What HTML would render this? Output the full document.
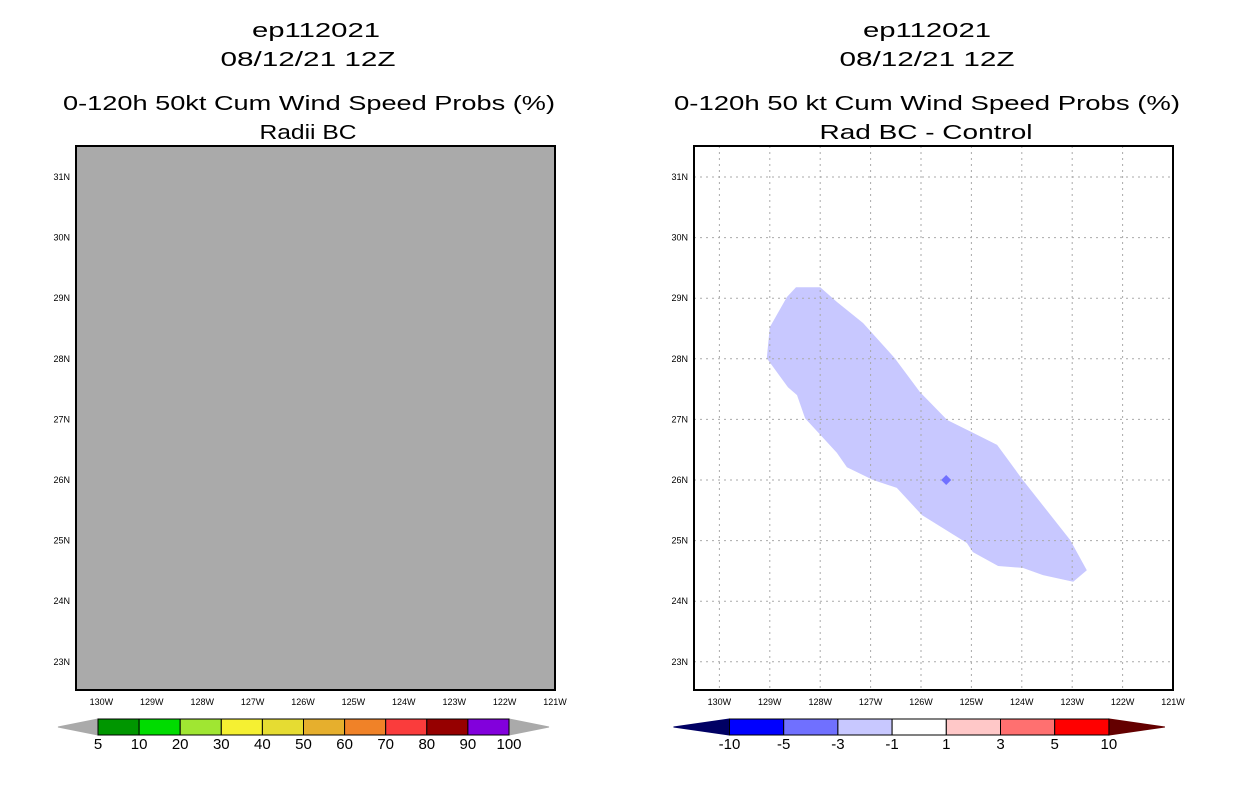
<!DOCTYPE html>
<html><head><meta charset="utf-8"><style>
body{margin:0;background:#fff;width:1236px;height:800px;overflow:hidden}
svg text{font-family:"Liberation Sans",sans-serif}
</style></head><body>
<svg id="s" width="1236" height="800" xmlns="http://www.w3.org/2000/svg">
<g font-size="20" text-anchor="middle" fill="#000">
<text x="316" y="37" textLength="128" lengthAdjust="spacingAndGlyphs">ep112021</text>
<text x="308" y="66" textLength="175" lengthAdjust="spacingAndGlyphs">08/12/21 12Z</text>
<text x="309" y="110" textLength="492" lengthAdjust="spacingAndGlyphs">0-120h 50kt Cum Wind Speed Probs (%)</text>
<text x="308" y="139" textLength="97" lengthAdjust="spacingAndGlyphs">Radii BC</text>
<text x="927" y="37" textLength="128" lengthAdjust="spacingAndGlyphs">ep112021</text>
<text x="927" y="66" textLength="175" lengthAdjust="spacingAndGlyphs">08/12/21 12Z</text>
<text x="927" y="110" textLength="506" lengthAdjust="spacingAndGlyphs">0-120h 50 kt Cum Wind Speed Probs (%)</text>
<text x="926" y="139" textLength="213" lengthAdjust="spacingAndGlyphs">Rad BC - Control</text>
</g>
<g id="L"></g>
<g id="R"></g>
<g id="CB"></g>
</svg>
<script>
const lonTicks=[130,129,128,127,126,125,124,123,122,121];
const latTicks=[31,30,29,28,27,26,25,24,23];
const diffLon=[128.48,128.00,127.67,127.15,126.52,126.02,125.48,124.97,124.49,123.98,123.04,122.71,122.98,123.58,123.98,124.47,124.97,125.09,125.98,126.48,126.95,127.47,127.67,128.30,128.46,128.64,129.06,129.00,128.66];
const diffLat=[29.18,29.18,28.94,28.59,28.01,27.45,26.99,26.78,26.58,26.00,25.01,24.51,24.32,24.43,24.55,24.58,24.81,24.96,25.42,25.87,26.00,26.21,26.45,27.02,27.40,27.53,28.01,28.52,29.02];
const peakLon=[125.5], peakLat=[26.0];
const probLabels=["5","10","20","30","40","50","60","70","80","90","100"];
const probColors=["#009600","#00dc00","#a0e632","#f5f032","#e6dc32","#e6af2d","#f08228","#fa3c3c","#960000","#8200dc"];
const diffLabels=["-10","-5","-3","-1","1","3","5","10"];
const diffColors=["#0000ff","#7070ff","#c8c8ff","#ffffff","#ffc8c8","#ff7070","#ff0000"];
const NS="http://www.w3.org/2000/svg";
function mk(p,t,a){const e=document.createElementNS(NS,t);for(const k in a)e.setAttribute(k,a[k]);p.appendChild(e);return e;}
function mapAxes(x0){
  const right=x0+479, top=146, bot=690;
  const X=lon=>right-(lon-121)*50.4;
  const Y=lat=>177+(31-lat)*60.6;
  return {X,Y,right,top,bot};
}
function drawMap(g,x0,fill){
  const a=mapAxes(x0);
  const bg=mk(g,'rect',{x:x0,y:a.top,width:479,height:544,fill:fill});
  
  
  return a;
}
function axesFrame(g,x0,a){
  const fr=mk(g,'rect',{x:x0,y:a.top,width:479,height:544,fill:'none',stroke:'#000','stroke-width':2});
  
  
  lonTicks.forEach(l=>{const t=mk(g,'text',{x:a.X(l),y:705,'font-size':9,'text-anchor':'middle'});t.textContent=l+'W';
    
    });
  latTicks.forEach(l=>{const t=mk(g,'text',{x:x0-6,y:a.Y(l)+3,'font-size':9,'text-anchor':'end'});t.textContent=l+'N';
    
    });
}
const L=document.getElementById('L'), R=document.getElementById('R');
const aL=drawMap(L,76,'#aaaaaa'); axesFrame(L,76,aL);
const aR=drawMap(R,694,'#ffffff');
const poly=mk(R,'polygon',{points:diffLon.map((l,i)=>aR.X(l)+','+aR.Y(diffLat[i])).join(' '),fill:'#c8c8ff'});


lonTicks.forEach(l=>{if(l>121){const gl=mk(R,'line',{x1:aR.X(l),x2:aR.X(l),y1:aR.top,y2:aR.bot,stroke:'#aaa','stroke-dasharray':'2,4'});
  
  }});
latTicks.forEach(l=>{const gl=mk(R,'line',{x1:694,x2:aR.right,y1:aR.Y(l),y2:aR.Y(l),stroke:'#aaa','stroke-dasharray':'2,4'});
  
  });
peakLon.forEach((l,i)=>{const cx=aR.X(l),cy=aR.Y(peakLat[i]);
  const d=mk(R,'polygon',{points:`${cx},${cy-5} ${cx+5},${cy} ${cx},${cy+5} ${cx-5},${cy}`,fill:'#7070ff'});
  
  });
axesFrame(R,694,aR);
const CB=document.getElementById('CB');
function colorbar(x0,w,y,h,colors,labels,lc,rc,tri){
  const n=colors.length;
  const lt=mk(CB,'polygon',{points:`${x0-tri},${y+h/2} ${x0},${y} ${x0},${y+h}`,fill:lc,stroke:lc});
  
  
  const rt=mk(CB,'polygon',{points:`${x0+n*w+tri},${y+h/2} ${x0+n*w},${y} ${x0+n*w},${y+h}`,fill:rc,stroke:rc});
  
  
  colors.forEach((c,i)=>{const r=mk(CB,'rect',{x:x0+i*w,y:y,width:w,height:h,fill:c,stroke:'#000','stroke-width':1});
    
    });
  labels.forEach((s,i)=>{const t=mk(CB,'text',{x:x0+i*w,y:y+h+14,'font-size':15,'text-anchor':'middle'});t.textContent=s;
    
    });
}
colorbar(98,41.1,719,16,probColors,probLabels,'#aaaaaa','#aaaaaa',40);
colorbar(729.5,54.2,719,16,diffColors,diffLabels,'#000064','#640000',56);
</script>
</body></html>
